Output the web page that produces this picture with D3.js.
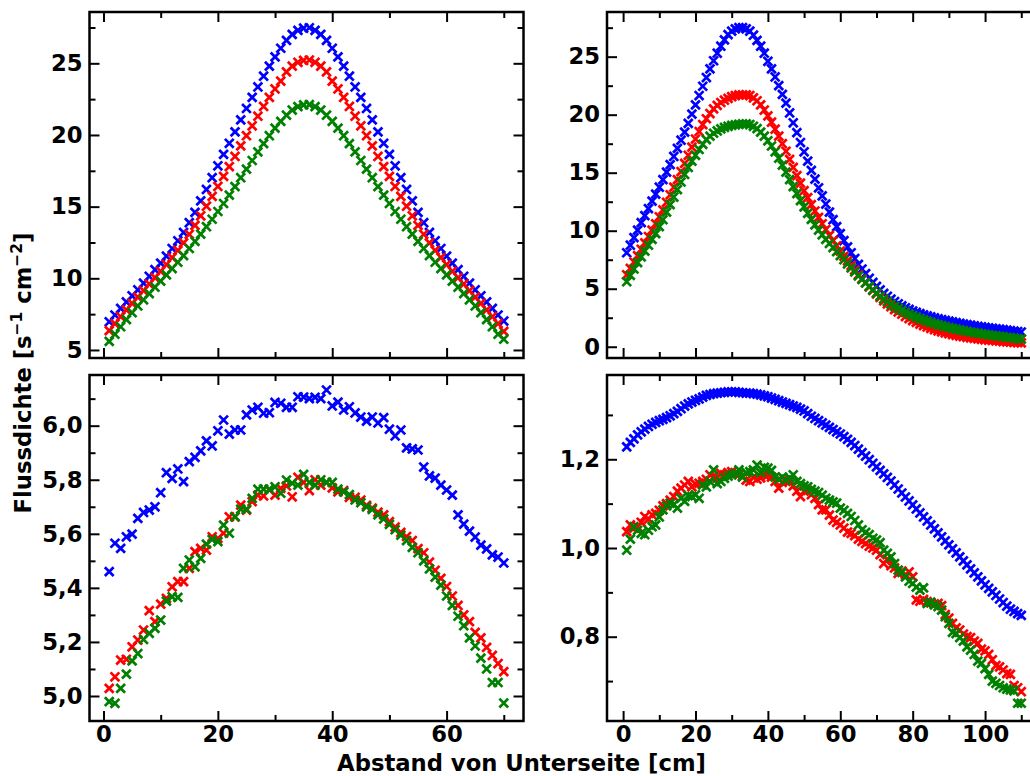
<!DOCTYPE html>
<html>
<head>
<meta charset="utf-8">
<script src="https://cdn.jsdelivr.net/npm/d3@7"></script>
<style>
  html, body { margin: 0; padding: 0; background: #fff; overflow: hidden; }
  svg { display: block; }
  text { font-family: "DejaVu Sans", sans-serif; font-weight: bold; }
</style>
</head>
<body>
<svg id="fig" width="1030" height="776"></svg>
<script>
// Sample positions along the detector (cm)
const posShort = d3.range(1, 71);   // 70 positions
const posLong = d3.range(1, 111);   // 110 positions

// Top left: flux density, short arrangement
const tlBlue = [6.97,7.44,7.90,8.35,8.78,9.20,9.66,10.14,10.60,11.06,11.55,12.08,12.62,13.20,13.88,14.60,15.40,16.20,17.02,17.85,18.65,19.42,20.22,21.05,21.85,22.62,23.35,24.10,24.80,25.45,26.05,26.60,27.02,27.30,27.45,27.48,27.30,27.02,26.60,26.05,25.45,24.80,24.10,23.35,22.62,21.85,21.05,20.22,19.42,18.65,17.85,17.02,16.20,15.40,14.60,13.88,13.20,12.62,12.08,11.55,11.06,10.60,10.14,9.66,9.20,8.78,8.35,7.90,7.44,7.02];
const tlRed = [6.35,6.84,7.32,7.80,8.25,8.69,9.14,9.60,10.05,10.49,10.96,11.45,11.95,12.47,13.07,13.69,14.36,15.03,15.72,16.41,17.11,17.79,18.50,19.24,19.95,20.64,21.31,21.99,22.62,23.21,23.76,24.40,24.80,25.07,25.20,25.23,25.07,24.80,24.40,23.76,23.21,22.62,21.99,21.31,20.64,19.95,19.24,18.50,17.79,17.11,16.41,15.72,15.03,14.36,13.69,13.07,12.47,11.95,11.45,10.96,10.49,10.05,9.60,9.14,8.69,8.25,7.80,7.32,6.84,6.30];
const tlGreen = [5.60,6.10,6.62,7.12,7.60,8.07,8.50,8.93,9.38,9.80,10.24,10.68,11.12,11.58,12.08,12.58,13.08,13.60,14.12,14.66,15.22,15.80,16.40,17.02,17.62,18.22,18.82,19.40,19.95,20.48,20.95,21.38,21.74,21.98,22.10,22.12,21.98,21.74,21.38,20.95,20.48,19.95,19.40,18.82,18.22,17.62,17.02,16.40,15.80,15.22,14.66,14.12,13.60,13.08,12.58,12.08,11.58,11.12,10.68,10.24,9.80,9.38,8.93,8.50,8.07,7.60,7.12,6.62,6.10,5.75];

// Top right: flux density, long arrangement
const trBlue = [8.10,8.75,9.40,10.05,10.70,11.30,11.90,12.55,13.15,13.75,14.40,15.05,15.70,16.40,17.10,17.80,18.50,19.25,20.05,20.85,21.65,22.45,23.20,23.95,24.65,25.30,25.90,26.45,26.90,27.20,27.40,27.50,27.50,27.40,27.20,26.85,26.40,25.90,25.30,24.60,23.95,23.25,22.50,21.75,21.00,20.15,19.30,18.45,17.60,16.80,16.00,15.20,14.45,13.70,13.00,12.30,11.60,10.95,10.35,9.75,9.15,8.60,8.10,7.60,7.10,6.70,6.30,5.90,5.55,5.20,4.90,4.60,4.35,4.10,3.90,3.70,3.52,3.36,3.22,3.08,2.96,2.85,2.75,2.66,2.57,2.49,2.41,2.34,2.27,2.20,2.14,2.08,2.02,1.96,1.91,1.86,1.81,1.76,1.72,1.67,1.63,1.59,1.55,1.51,1.47,1.43,1.39,1.35,1.31,1.27];
const trRed = [6.20,6.75,7.30,7.85,8.40,8.95,9.50,10.05,10.60,11.20,11.80,12.45,13.10,13.75,14.40,15.10,15.80,16.50,17.20,17.90,18.55,19.15,19.65,20.10,20.50,20.80,21.05,21.25,21.40,21.55,21.65,21.70,21.70,21.70,21.65,21.45,21.20,20.85,20.40,19.90,19.35,18.75,18.15,17.50,16.85,16.15,15.45,14.75,14.10,13.45,12.85,12.25,11.70,11.15,10.60,10.10,9.60,9.15,8.70,8.25,7.80,7.40,7.00,6.60,6.20,5.85,5.50,5.15,4.85,4.55,4.25,3.95,3.70,3.45,3.20,3.00,2.80,2.60,2.42,2.25,2.10,1.95,1.82,1.70,1.58,1.47,1.37,1.28,1.20,1.12,1.05,0.98,0.92,0.86,0.81,0.76,0.72,0.68,0.64,0.60,0.57,0.54,0.51,0.48,0.45,0.42,0.40,0.37,0.35,0.33];
const trGreen = [5.60,6.15,6.70,7.25,7.75,8.25,8.75,9.25,9.75,10.35,10.95,11.60,12.25,12.90,13.55,14.20,14.85,15.45,16.00,16.50,17.00,17.45,17.85,18.15,18.40,18.60,18.78,18.90,19.00,19.08,19.13,19.17,19.20,19.20,19.15,19.00,18.80,18.50,18.15,17.75,17.30,16.80,16.25,15.65,15.05,14.40,13.80,13.20,12.60,12.05,11.50,10.98,10.50,10.05,9.65,9.25,8.90,8.55,8.20,7.85,7.50,7.15,6.80,6.45,6.10,5.80,5.50,5.20,4.90,4.62,4.36,4.12,3.90,3.68,3.48,3.30,3.13,2.97,2.82,2.68,2.55,2.43,2.32,2.21,2.10,2.00,1.91,1.82,1.74,1.66,1.59,1.52,1.45,1.39,1.33,1.27,1.22,1.17,1.12,1.07,1.02,0.98,0.94,0.90,0.86,0.82,0.78,0.74,0.70,0.66];

// Bottom left: flux density, short arrangement, second material
const blBlue = [5.460,5.565,5.546,5.589,5.599,5.657,5.679,5.688,5.700,5.752,5.826,5.805,5.840,5.793,5.867,5.883,5.907,5.944,5.925,5.981,6.021,5.969,5.984,5.984,6.040,6.058,6.068,6.046,6.048,6.086,6.083,6.068,6.068,6.107,6.106,6.100,6.105,6.100,6.132,6.073,6.087,6.058,6.070,6.047,6.032,6.017,6.032,6.010,6.030,5.987,5.962,5.984,5.918,5.914,5.910,5.847,5.814,5.806,5.780,5.762,5.743,5.670,5.636,5.610,5.588,5.558,5.544,5.522,5.514,5.492];
const blRed = [5.028,5.071,5.133,5.136,5.182,5.207,5.244,5.316,5.275,5.340,5.361,5.404,5.423,5.423,5.472,5.534,5.546,5.540,5.589,5.583,5.602,5.663,5.663,5.706,5.688,5.719,5.743,5.740,5.762,5.743,5.768,5.777,5.737,5.809,5.790,5.760,5.800,5.780,5.790,5.770,5.755,5.760,5.735,5.735,5.725,5.705,5.695,5.680,5.670,5.645,5.625,5.605,5.590,5.575,5.545,5.530,5.495,5.465,5.435,5.405,5.370,5.335,5.300,5.275,5.235,5.215,5.180,5.150,5.120,5.090];
const blGreen = [4.979,4.973,5.028,5.081,5.130,5.157,5.209,5.232,5.250,5.281,5.351,5.367,5.365,5.472,5.503,5.478,5.509,5.562,5.579,5.571,5.632,5.602,5.663,5.691,5.691,5.731,5.765,5.765,5.765,5.774,5.750,5.799,5.787,5.780,5.820,5.790,5.780,5.800,5.790,5.790,5.765,5.755,5.745,5.725,5.715,5.700,5.690,5.670,5.655,5.635,5.615,5.595,5.575,5.550,5.530,5.500,5.470,5.440,5.410,5.370,5.335,5.295,5.260,5.215,5.185,5.140,5.100,5.050,5.050,4.974];

// Bottom right: flux density, long arrangement, second material
const brBlue = [1.228,1.238,1.246,1.255,1.262,1.268,1.274,1.279,1.283,1.287,1.290,1.294,1.298,1.303,1.308,1.314,1.320,1.325,1.329,1.333,1.336,1.340,1.344,1.346,1.348,1.349,1.350,1.351,1.352,1.352,1.352,1.351,1.350,1.349,1.349,1.348,1.347,1.345,1.343,1.341,1.338,1.335,1.332,1.329,1.326,1.323,1.320,1.317,1.313,1.309,1.303,1.297,1.292,1.287,1.282,1.277,1.272,1.267,1.262,1.257,1.251,1.245,1.238,1.231,1.223,1.215,1.207,1.199,1.191,1.183,1.175,1.167,1.159,1.151,1.142,1.133,1.124,1.115,1.106,1.097,1.088,1.079,1.070,1.061,1.052,1.043,1.034,1.025,1.016,1.007,0.998,0.989,0.980,0.971,0.962,0.953,0.944,0.935,0.926,0.917,0.909,0.901,0.893,0.885,0.877,0.869,0.862,0.857,0.852,0.848];
const brRed = [1.037,1.052,1.045,1.048,1.058,1.071,1.065,1.075,1.078,1.085,1.095,1.100,1.108,1.116,1.128,1.135,1.142,1.150,1.138,1.144,1.146,1.150,1.155,1.165,1.160,1.158,1.168,1.165,1.170,1.172,1.168,1.166,1.162,1.153,1.150,1.160,1.155,1.158,1.165,1.165,1.160,1.150,1.135,1.148,1.150,1.152,1.140,1.128,1.116,1.128,1.130,1.120,1.112,1.098,1.086,1.086,1.074,1.063,1.058,1.052,1.045,1.036,1.033,1.028,1.020,1.015,1.010,1.004,1.000,0.995,0.985,0.965,0.975,0.960,0.955,0.943,0.948,0.940,0.946,0.935,0.883,0.880,0.884,0.879,0.876,0.874,0.875,0.870,0.850,0.842,0.830,0.820,0.815,0.806,0.800,0.798,0.790,0.785,0.772,0.768,0.760,0.748,0.735,0.732,0.725,0.717,0.715,0.690,0.685,0.676];
const brGreen = [0.995,1.020,1.048,1.040,1.033,1.030,1.040,1.048,1.052,1.070,1.086,1.095,1.101,1.098,1.090,1.112,1.105,1.118,1.116,1.120,1.112,1.142,1.138,1.150,1.176,1.145,1.150,1.157,1.162,1.165,1.168,1.176,1.160,1.170,1.172,1.176,1.187,1.170,1.182,1.180,1.175,1.160,1.155,1.160,1.153,1.158,1.165,1.150,1.145,1.140,1.138,1.132,1.128,1.125,1.119,1.112,1.108,1.104,1.101,1.090,1.085,1.078,1.071,1.062,1.052,1.041,1.035,1.030,1.022,1.018,1.012,0.995,0.988,0.980,0.965,0.950,0.945,0.935,0.925,0.920,0.912,0.905,0.910,0.875,0.878,0.872,0.868,0.860,0.845,0.830,0.810,0.807,0.798,0.790,0.777,0.770,0.760,0.745,0.740,0.728,0.715,0.700,0.695,0.690,0.685,0.682,0.680,0.678,0.650,0.650];

// Tick values
const xMajorShort = [0, 20, 40, 60];
const xMinorShort = [10, 30, 50, 70];
const xMajorLong = [0, 20, 40, 60, 80, 100];
const xMinorLong = [10, 30, 50, 70, 90, 110];
const yMajorTL = [5, 10, 15, 20, 25];
const yMinorTL = [7.5, 12.5, 17.5, 22.5, 27.5];
const yMajorTR = [0, 5, 10, 15, 20, 25];
const yMinorTR = [2.5, 7.5, 12.5, 17.5, 22.5, 27.5];
const yMajorBL = [5.0, 5.2, 5.4, 5.6, 5.8, 6.0];
const yMinorBL = [5.1, 5.3, 5.5, 5.7, 5.9, 6.1];
const yMajorBR = [0.8, 1.0, 1.2];
const yMinorBR = [0.7, 0.9, 1.1, 1.3];

const seriesColors = ["#0000ff", "#ff0000", "#008000"];

// Layout of the 2x2 grid
const cols = [
  { x0: 89.5, x1: 523.5, domain: [-2.45, 73.45], pos: posShort, major: xMajorShort, minor: xMinorShort },
  { x0: 607, x1: 1041, domain: [-4.45, 115.45], pos: posLong, major: xMajorLong, minor: xMinorLong }
];
const rows = [ { y0: 12, y1: 358 }, { y0: 375, y1: 721 } ];

const intFmt = d => String(Math.round(d));
const decFmt = d => d3.format(".1f")(d).replace(".", ",");

const panels = [
  { r: 0, c: 0, ydom: [4.44, 28.58], major: yMajorTL, minor: yMinorTL, fmt: intFmt, series: [tlBlue, tlRed, tlGreen] },
  { r: 0, c: 1, ydom: [-0.97, 28.85], major: yMajorTR, minor: yMinorTR, fmt: intFmt, series: [trBlue, trRed, trGreen] },
  { r: 1, c: 0, ydom: [4.9075, 6.1875], major: yMajorBL, minor: yMinorBL, fmt: decFmt, series: [blBlue, blRed, blGreen] },
  { r: 1, c: 1, ydom: [0.61, 1.39], major: yMajorBR, minor: yMinorBR, fmt: decFmt, series: [brBlue, brRed, brGreen] }
];

const svg = d3.select("#fig");
const FS = 22.7, MAJ = 10, MIN = 6, ARM = 4.4;
const cross = `M${-ARM},${-ARM}L${ARM},${ARM}M${-ARM},${ARM}L${ARM},${-ARM}`;

panels.forEach((p, i) => {
  const col = cols[p.c], row = rows[p.r];
  const w = col.x1 - col.x0, h = row.y1 - row.y0;
  const x = d3.scaleLinear().domain(col.domain).range([0, w]);
  const y = d3.scaleLinear().domain(p.ydom).range([h, 0]);
  const g = svg.append("g").attr("transform", `translate(${col.x0},${row.y0})`);

  const clipId = "clip" + i;
  g.append("clipPath").attr("id", clipId).append("rect").attr("width", w).attr("height", h);

  // scatter series
  const plot = g.append("g").attr("clip-path", `url(#${clipId})`);
  p.series.forEach((vals, k) => {
    plot.append("g").selectAll("path").data(vals).join("path")
      .attr("d", cross)
      .attr("transform", (v, j) => `translate(${x(col.pos[j])},${y(v)})`)
      .attr("fill", "none")
      .attr("stroke", seriesColors[k])
      .attr("stroke-width", 2.7);
  });

  const styleAxis = (sel, width) => {
    sel.select(".domain").remove();
    sel.selectAll("line").attr("stroke", "#000").attr("stroke-width", width);
    sel.selectAll("text").attr("font-size", FS).attr("fill", "#000")
      .attr("font-family", "DejaVu Sans").attr("font-weight", "bold");
  };

  // left axis (labelled), right axis (ticks only)
  g.append("g").call(d3.axisLeft(y).tickValues(p.major).tickSize(-MAJ).tickPadding(7).tickFormat(p.fmt)).call(s => styleAxis(s, 2));
  g.append("g").call(d3.axisLeft(y).tickValues(p.minor).tickSize(-MIN).tickFormat("")).call(s => styleAxis(s, 2));
  g.append("g").attr("transform", `translate(${w},0)`).call(d3.axisRight(y).tickValues(p.major).tickSize(-MAJ).tickFormat("")).call(s => styleAxis(s, 2));
  g.append("g").attr("transform", `translate(${w},0)`).call(d3.axisRight(y).tickValues(p.minor).tickSize(-MIN).tickFormat("")).call(s => styleAxis(s, 2));

  // bottom axis (labels on the lower row only), top axis ticks
  g.append("g").attr("transform", `translate(0,${h})`)
    .call(d3.axisBottom(x).tickValues(col.major).tickSize(-MAJ).tickPadding(5).tickFormat(p.r === 1 ? intFmt : ""))
    .call(s => styleAxis(s, 2));
  g.append("g").attr("transform", `translate(0,${h})`).call(d3.axisBottom(x).tickValues(col.minor).tickSize(-MIN).tickFormat("")).call(s => styleAxis(s, 2));
  g.append("g").call(d3.axisTop(x).tickValues(col.major).tickSize(-MAJ).tickFormat("")).call(s => styleAxis(s, 2));
  g.append("g").call(d3.axisTop(x).tickValues(col.minor).tickSize(-MIN).tickFormat("")).call(s => styleAxis(s, 2));

  // frame
  g.append("rect").attr("width", w).attr("height", h)
    .attr("fill", "none").attr("stroke", "#000").attr("stroke-width", 2.5);
});

// axis titles
svg.append("text")
  .attr("x", 521.5).attr("y", 771)
  .attr("text-anchor", "middle").attr("font-size", FS)
  .text("Abstand von Unterseite [cm]");

const yl = svg.append("text")
  .attr("transform", "translate(31,373) rotate(-90)")
  .attr("text-anchor", "middle").attr("font-size", FS);
yl.append("tspan").text("Flussdichte [s");
yl.append("tspan").attr("baseline-shift", "super").attr("font-size", 15.5).text("\u22121");
yl.append("tspan").text(" cm");
yl.append("tspan").attr("baseline-shift", "super").attr("font-size", 15.5).text("\u22122");
yl.append("tspan").text("]");
</script>
</body>
</html>
